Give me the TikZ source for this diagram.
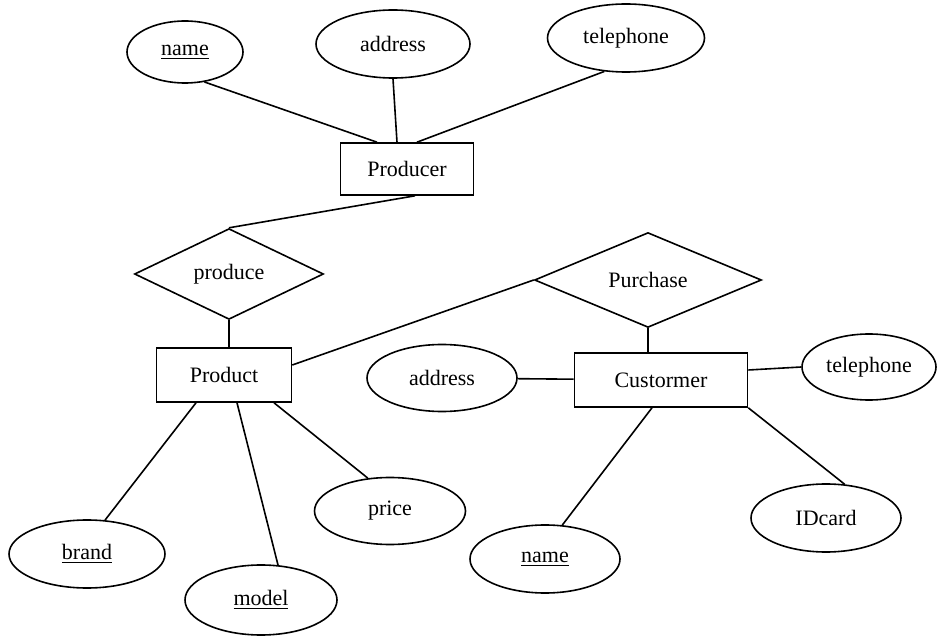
\documentclass[tikz,border=0pt]{standalone}
\usepackage{fontspec}
\setmainfont{Liberation Serif}
\usepackage{tikz}
\usetikzlibrary{shapes.geometric}
\tikzset{
  attrnode/.style={
    ellipse, draw=black, line width=0.8pt, inner sep=0pt,
    font=\fontsize{11}{13}\selectfont
  },
  entitynode/.style={
    rectangle, draw=black, line width=0.8pt, inner sep=0pt,
    font=\fontsize{11}{13}\selectfont
  },
  relnode/.style={
    diamond, draw=black, line width=0.8pt, inner sep=0pt,
    font=\fontsize{11}{13}\selectfont
  },
  erline/.style={line width=0.8pt, color=black},
}
\begin{document}
\begin{tikzpicture}[x=0.5pt,y=-0.5pt]
  \useasboundingbox (0,0) rectangle (938,636);

  % producer side
  \node[attrnode, minimum width=58pt, minimum height=31pt] (pname) at (185,52) {\underline{name}};
  \node[attrnode, minimum width=77pt, minimum height=34pt] (paddr) at (393,44) {address};
  \node[attrnode, minimum width=78.5pt, minimum height=34pt] (ptel) at (626,38) {telephone};
  \node[entitynode, minimum width=66.5pt, minimum height=26pt] (producer) at (407,169) {Producer};
  \node[relnode, minimum width=94.5pt, minimum height=41.5pt] (produce) at (229,274) {produce};

  % product side
  \node[entitynode, minimum width=67.5pt, minimum height=27pt] (product) at (224,375) {Product};
  \node[attrnode, minimum width=78pt, minimum height=34pt] (brand) at (87,554) {\underline{brand}};
  \node[attrnode, minimum width=76pt, minimum height=35pt] (model) at (261,600) {\underline{model}};
  \node[attrnode, minimum width=75.5pt, minimum height=33.5pt] (price) at (390,511) {price};

  % customer side
  \node[relnode, minimum width=113.5pt, minimum height=42pt] (purchase) at (648,280) {Purchase};
  \node[entitynode, minimum width=86.5pt, minimum height=27pt] (customer) at (661,380) {Custormer};
  \node[attrnode, minimum width=75pt, minimum height=33.5pt] (caddr) at (442,378) {address};
  \node[attrnode, minimum width=67pt, minimum height=33pt] (ctel) at (869,367) {telephone};
  \node[attrnode, minimum width=75pt, minimum height=34pt] (cname) at (545,559) {\underline{name}};
  \node[attrnode, minimum width=75pt, minimum height=34pt] (idcard) at (826,518) {IDcard};

  \draw[erline] (pname.-57) -- ([xshift=-15pt]producer.north);
  \draw[erline] (paddr.south) -- ([xshift=-5pt]producer.north);
  \draw[erline] (ptel.-123) -- ([xshift=5pt]producer.north);
  \draw[erline] ([xshift=4pt]producer.south) -- (produce.north);
  \draw[erline] (produce.south) -- (produce.south |- product.north);
  \draw[erline] ([yshift=5pt]product.east) -- (purchase.west);
  \draw[erline] (purchase.south) -- (purchase.south |- customer.north);
  \draw[erline] (caddr) -- (customer);
  \draw[erline] ([yshift=5pt]customer.east) -- (ctel.west);
  \draw[erline] ([xshift=-4.5pt]customer.south) -- (cname.63);
  \draw[erline] (customer.south east) -- (idcard.61);
  \draw[erline] ([xshift=-14pt]product.south) -- (brand.62);
  \draw[erline] ([xshift=6.5pt]product.south) -- (model.64);
  \draw[erline] ([xshift=25pt]product.south) -- (price.124);
\end{tikzpicture}
\end{document}
